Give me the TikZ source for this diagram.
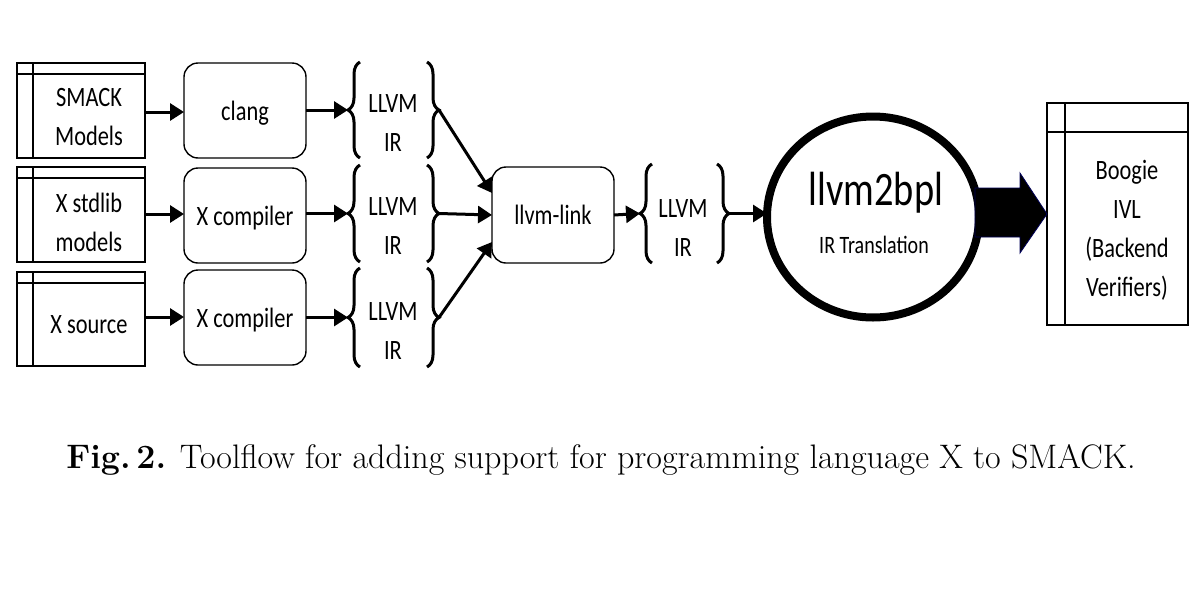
\documentclass[tikz,border=0pt]{standalone}
\usepackage{fontspec}
\newfontfamily\calfont{Carlito}[FakeStretch=0.8]
\usetikzlibrary{arrows.meta,calc,shapes.geometric,decorations.pathreplacing}
\tikzset{
  docbox/.style={draw, line width=1.4pt, minimum width=128pt, minimum height=95pt, inner sep=0pt, outer sep=0pt},
  toolbox/.style={draw, line width=1.4pt, rounded corners=14pt, minimum width=122pt, minimum height=95pt, inner sep=0pt, outer sep=0pt, text height=19pt, text depth=0pt, font=\calfont\fontsize{28}{39}\selectfont},
  lbl/.style={align=center, inner sep=0pt, font=\calfont\fontsize{28}{39}\selectfont},
  inline/.style={line width=2.2pt},
  conn/.style={line width=3pt, -{Triangle[length=14pt,width=17pt]}},
  brc/.style={line width=3pt, decorate, decoration={brace, amplitude=12pt}},
}
\begin{document}
\begin{tikzpicture}[x=1pt,y=1pt]
\path[use as bounding box] (0,0) rectangle (1200,-600);

% document boxes
\node[docbox] (d1) at (81,-110.5) {};
\node[docbox] (d2) at (81,-214.5) {};
\node[docbox, minimum height=94pt] (d3) at (81,-319) {};
\foreach \d in {d1,d2,d3}{
  \draw[inline] ($(\d.north west)+(16,0)$) -- ($(\d.south west)+(16,0)$);
  \draw[inline] ($(\d.north west)+(0,-11)$) -- ($(\d.north east)+(0,-11)$);
}
\node[lbl] (t1) at (89,-117) {SMACK\\Models};
\node[lbl] (t2) at (89,-222) {X stdlib\\models};
\node[lbl] (t3) at (89,-325) {X source};

% compilers
\node[toolbox] (c1) at (245,-110.5) {clang};
\node[toolbox] (c2) at (245,-215.5) {X compiler};
\node[toolbox] (c3) at (245,-317.5) {X compiler};

\draw[conn] (d1.east |- 0,-112) -- (c1.west |- 0,-112);
\draw[conn] (d2.east |- 0,-214) -- (c2.west |- 0,-214);
\draw[conn] (d3.east |- 0,-317) -- (c3.west |- 0,-317);

% braces
\draw[brc] (360,-158) -- (360,-62);
\draw[brc] (427,-62) -- (427,-158);
\draw[brc] (360,-262) -- (360,-165);
\draw[brc] (427,-165) -- (427,-262);
\draw[brc] (360,-367) -- (360,-268);
\draw[brc] (427,-268) -- (427,-367);
\draw[brc] (652,-263) -- (652,-164);
\draw[brc] (717,-164) -- (717,-263);
\coordinate (bl1) at (348,-110);
\coordinate (br1) at (439,-110);
\coordinate (bl2) at (348,-213.5);
\coordinate (br2) at (439,-213.5);
\coordinate (bl3) at (348,-317.5);
\coordinate (br3) at (439,-317.5);
\coordinate (bl4) at (640,-213.5);
\coordinate (br4) at (729,-213.5);
\node[lbl] (ir1) at (393,-123) {LLVM\\IR};
\node[lbl] (ir2) at (393,-226) {LLVM\\IR};
\node[lbl] (ir3) at (393,-331) {LLVM\\IR};
\node[lbl] (ir4) at (683,-228) {LLVM\\IR};

\draw[conn] (c1.east |- bl1) -- (bl1);
\draw[conn] (c2.east |- bl2) -- (bl2);
\draw[conn] (c3.east |- bl3) -- (bl3);

% llvm-link
\node[toolbox, minimum height=96pt] (link) at (553,-215) {llvm-link};
\draw[conn] (br1) -- ($(link.west)+(0,22)$);
\draw[conn] (br2) -- (link.west);
\draw[conn] (br3) -- ($(link.west)+(0,-27)$);
\draw[conn] (link.east) -- (bl4);

% llvm2bpl
\node[ellipse, draw, line width=8pt, minimum width=212pt, minimum height=201pt, inner sep=0pt, outer sep=0pt] (circ) at (873,-217) {};
\node[inner sep=0pt, font=\calfont\fontsize{48}{50}\selectfont] (big) at (876,-193) {llvm2bpl};
\node[inner sep=0pt, font=\calfont\fontsize{25}{28}\selectfont] (sub) at (874,-245) {IR Translation};
\draw[conn] (br4) -- (circ.west |- br4);

% Boogie box
\node[docbox, minimum width=141pt, minimum height=222pt, line width=1.2pt] (bg) at (1117.5,-214) {};
\draw[line width=1.4pt] ($(bg.north west)+(18,0)$) -- ($(bg.south west)+(18,0)$);
\draw[line width=1.4pt] ($(bg.north west)+(0,-29)$) -- ($(bg.north east)+(0,-29)$);
\node[lbl] (bt) at (1127,-230) {Boogie\\IVL\\(Backend\\Verifiers)};

% big arrow
\draw[fill=black, draw=blue!35!black, line width=0.8pt]
  ($(bg.west)+(-72,26)$) -- ($(bg.west)+(-27,26)$) -- ($(bg.west)+(-27,41)$) --
  (bg.west) -- ($(bg.west)+(-27,-39)$) -- ($(bg.west)+(-27,-23)$) --
  ($(bg.west)+(-72,-23)$) -- cycle;

% caption
\node[inner sep=0pt, anchor=base] (cap) at (601,-468) {\fontsize{34}{40}\selectfont\textbf{Fig.\,2.} Toolflow for adding support for programming language X to SMACK.};
\end{tikzpicture}
\end{document}
